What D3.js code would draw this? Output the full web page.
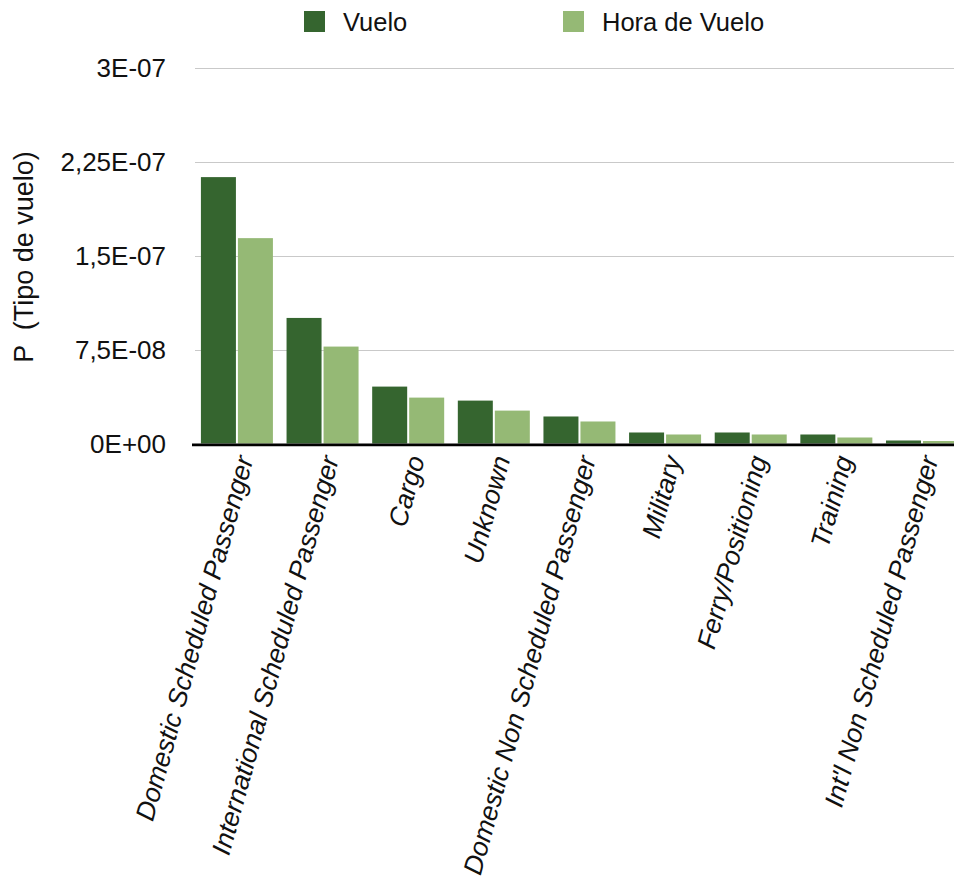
<!DOCTYPE html>
<html>
<head>
<meta charset="utf-8">
<script src="https://cdn.jsdelivr.net/npm/d3@7/dist/d3.min.js"></script>
<style>
  html, body { margin: 0; padding: 0; background: #fff; }
  svg { display: block; font-family: "Liberation Sans", Arial, Helvetica, sans-serif; }
</style>
</head>
<body>
<svg id="chart" width="954" height="883"></svg>
<script>
// Flight-type categories and the two probability series
const categories = [
  "Domestic Scheduled Passenger",
  "International Scheduled Passenger",
  "Cargo",
  "Unknown",
  "Domestic Non Scheduled Passenger",
  "Military",
  "Ferry/Positioning",
  "Training",
  "Int'l Non Scheduled Passenger"
];
const seriesNames = ["Vuelo", "Hora de Vuelo"];
const vuelo      = [2.13e-7, 1.004e-7, 4.55e-8, 3.43e-8, 2.16e-8, 8.8e-9, 8.8e-9, 7.2e-9, 2.4e-9];
const horaVuelo  = [1.642e-7, 7.75e-8, 3.67e-8, 2.63e-8, 1.76e-8, 7.2e-9, 7.2e-9, 4.8e-9, 2.0e-9];
const tickValues = [0, 7.5e-8, 1.5e-7, 2.25e-7, 3e-7];
const tickLabels = ["0E+00", "7,5E-08", "1,5E-07", "2,25E-07", "3E-07"];
const colors = ["#35652f", "#95b975"];

const svg = d3.select("#chart");

const x0 = d3.scaleBand().domain(categories).range([194.1, 964.8]).padding(0);
const groupInset = (x0.bandwidth() - 72) / 2;
const x1 = d3.scaleBand().domain(seriesNames).range([0, 72]).paddingInner(2 / 37).paddingOuter(0);
const y = d3.scaleLinear().domain([0, 3e-7]).range([443.5, 68.3]);

// horizontal gridlines
svg.append("g")
  .selectAll("line")
  .data(tickValues.slice(1))
  .join("line")
  .attr("x1", 195).attr("x2", 954)
  .attr("y1", d => Math.round(y(d)) + 0.5)
  .attr("y2", d => Math.round(y(d)) + 0.5)
  .attr("stroke", "#c9c9c9")
  .attr("stroke-width", 1.2);

// y tick labels
svg.append("g")
  .selectAll("text")
  .data(tickValues)
  .join("text")
  .attr("x", 166)
  .attr("y", d => y(d))
  .attr("text-anchor", "end")
  .attr("dominant-baseline", "central")
  .attr("font-size", 26)
  .attr("fill", "#111")
  .text((d, i) => tickLabels[i]);

// grouped bars
const rows = categories.map((c, i) => ({ cat: c, vals: [vuelo[i], horaVuelo[i]] }));
const groups = svg.append("g")
  .selectAll("g")
  .data(rows)
  .join("g")
  .attr("transform", d => `translate(${x0(d.cat) + groupInset},0)`);

groups.selectAll("rect")
  .data(d => d.vals.map((v, k) => ({ key: seriesNames[k], v, k })))
  .join("rect")
  .attr("x", d => x1(d.key))
  .attr("width", x1.bandwidth())
  .attr("y", d => y(d.v))
  .attr("height", d => y(0) - y(d.v))
  .attr("fill", d => colors[d.k]);

// baseline
svg.append("line")
  .attr("x1", 192).attr("x2", 954)
  .attr("y1", y(0) + 1.4).attr("y2", y(0) + 1.4)
  .attr("stroke", "#000")
  .attr("stroke-width", 2.8);

// rotated category labels
svg.append("g")
  .selectAll("text")
  .data(categories)
  .join("text")
  .attr("transform", d => `translate(${x0(d) + x0.bandwidth() / 2 + 8},${y(0) + 13}) rotate(-74.5)`)
  .attr("text-anchor", "end")
  .attr("dominant-baseline", "central")
  .attr("font-size", 26.5)
  .attr("font-style", "italic")
  .attr("fill", "#111")
  .text(d => d);

// y-axis title
svg.append("text")
  .attr("transform", "translate(24,257) rotate(-90)")
  .attr("text-anchor", "middle")
  .attr("dominant-baseline", "central")
  .attr("font-size", 27)
  .attr("fill", "#111")
  .attr("xml:space", "preserve")
  .style("white-space", "pre")
  .text("P  (Tipo de vuelo)");

// legend
const legendX = [304, 563];
const legend = svg.append("g")
  .selectAll("g")
  .data(seriesNames)
  .join("g")
  .attr("transform", (d, i) => `translate(${legendX[i]},11)`);
legend.append("rect")
  .attr("width", 21).attr("height", 21)
  .attr("fill", (d, i) => colors[i]);
legend.append("text")
  .attr("x", 39).attr("y", 11)
  .attr("dominant-baseline", "central")
  .attr("font-size", 25.5)
  .attr("fill", "#111")
  .text(d => d);
</script>
</body>
</html>
